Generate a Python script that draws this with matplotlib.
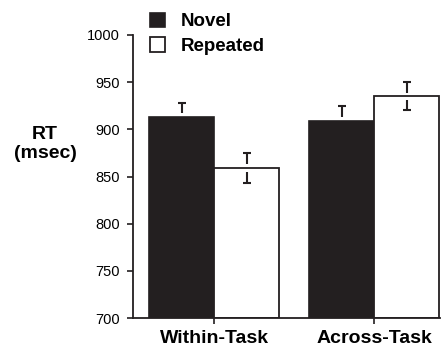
import matplotlib
matplotlib.use("Agg")
import matplotlib.pyplot as plt
from matplotlib.patches import Patch

plt.rcParams['font.family'] = ['Liberation Sans', 'DejaVu Sans']

# data
groups = ["Within-Task", "Across-Task"]
series = ["Novel", "Repeated"]
novel = [913, 909]
repeated = [859, 935]
novel_err = [15, 16]
repeated_err = [16, 15]
yticks = [700, 750, 800, 850, 900, 950, 1000]

dark = "#231f20"

fig = plt.figure(figsize=(4.41, 3.48), dpi=100)
ax = fig.add_axes([133/441, 30/348, 307/441, 283/348])

w = 0.405
xs = [0, 1]
x_nov = [x - w/2 for x in xs]
x_rep = [x + w/2 for x in xs]

ax.bar(x_nov, [v - 700 for v in novel], w, bottom=700, color=dark,
       edgecolor=dark, linewidth=1.2, zorder=2)
ax.bar(x_rep, [v - 700 for v in repeated], w, bottom=700, color="white",
       edgecolor=dark, linewidth=1.3, zorder=2)

# error bars drawn as T shapes with a little gap from the bar top
gap = 4
cap = 0.025
for xx, yy, ee in zip(x_nov + x_rep, novel + repeated, novel_err + repeated_err):
    ax.vlines(xx, yy + gap, yy + ee, color=dark, lw=1.5, zorder=3)
    ax.hlines(yy + ee, xx - cap, xx + cap, color=dark, lw=1.5, zorder=3)
    ax.vlines(xx, yy - ee, yy - gap, color=dark, lw=1.5, zorder=3)
    ax.hlines(yy - ee, xx - cap, xx + cap, color=dark, lw=1.5, zorder=3)

ax.set_xlim(-0.506, 1.41)
ax.set_ylim(700, 1000)
ax.set_yticks(yticks)
ax.set_yticklabels([str(t) for t in yticks], fontsize=10.5)
ax.set_xticks(xs)
ax.set_xticklabels(groups, fontsize=14, fontweight="bold")
ax.tick_params(axis="y", length=4.5, width=1.2, color=dark, pad=5)
ax.tick_params(axis="x", length=4.5, width=1.2, color=dark, pad=4)

for s in ["top", "right"]:
    ax.spines[s].set_visible(False)
for s in ["left", "bottom"]:
    ax.spines[s].set_linewidth(1.3)
    ax.spines[s].set_color(dark)
    ax.spines[s].set_zorder(4)

fig.text(45/441, 1 - 144/348, "RT\n(msec)", ha="center", va="center",
         fontsize=14, fontweight="bold", linespacing=1.1)

handles = [Patch(facecolor=dark, edgecolor=dark, lw=1.2),
           Patch(facecolor="white", edgecolor=dark, lw=1.3)]
fig.legend(handles, series, loc="upper left", bbox_to_anchor=(142/441, 1 - 5/348),
           frameon=False, prop={"size": 13.5, "weight": "bold"},
           handlelength=0.85, handleheight=0.85, handletextpad=0.8,
           labelspacing=0.35, borderaxespad=0)

fig.savefig("out.png", dpi=100)
